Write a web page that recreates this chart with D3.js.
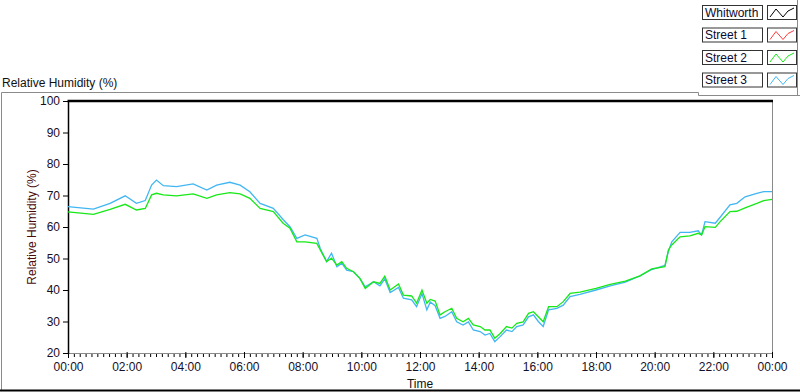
<!DOCTYPE html>
<html>
<head>
<meta charset="utf-8">
<script src="https://d3js.org/d3.v7.min.js"></script>
<style>
body { margin: 0; background: #fff; }
svg { display: block; font-family: "Liberation Sans", Arial, sans-serif; }
</style>
<title>Relative Humidity</title>
</head>
<body>
<script>
// minutes since midnight
var minutes = [0, 52, 86, 117, 140, 158, 171, 181, 195, 222, 256, 284, 304, 331, 352, 372, 393, 420,
  440, 454, 468, 485, 509, 516, 529, 539, 550, 560, 570, 584, 597, 608, 625, 638, 648, 659, 676, 686,
  703, 713, 724, 734, 741, 751, 761, 771, 785, 795, 808, 819, 829, 843, 853, 863, 873, 884, 897, 908,
  918, 931, 942, 952, 962, 972, 983, 1000, 1013, 1027, 1047, 1080, 1109, 1140, 1170, 1194, 1221, 1228,
  1235, 1252, 1272, 1289, 1296, 1303, 1324, 1334, 1354, 1368, 1385, 1409, 1423, 1440];

var street2 = [64.8, 64.0, 65.6, 67.2, 65.4, 65.9, 70.2, 70.7, 70.2, 69.9, 70.5, 69.1, 70.2, 70.9, 70.5, 69.1, 65.9, 64.9,
  61.2, 59.6, 55.3, 55.3, 54.8, 52.7, 49.0, 50.1, 47.9, 49.0, 46.9, 45.8, 43.7, 40.5, 42.6, 42.1, 44.4, 40.0, 41.9, 38.4,
  38.1, 35.8, 40.0, 35.8, 37.0, 36.5, 32.1, 33.1, 34.2, 31.0, 29.9, 31.0, 28.9, 28.4, 27.3, 27.3, 24.7, 26.2, 28.4, 27.9,
  29.4, 29.9, 32.6, 33.1, 31.5, 29.9, 34.7, 34.7, 36.3, 38.9, 39.3, 40.5, 41.8, 42.8, 44.5, 46.7, 47.4, 52.7,
  54.3, 56.9, 57.2, 58.0, 57.5, 60.1, 59.9, 61.7, 64.9, 65.0, 66.1, 67.5, 68.4, 68.8];

var street3 = [66.5, 65.7, 67.5, 69.9, 67.5, 68.4, 73.3, 74.9, 73.1, 72.8, 73.7, 71.7, 73.3, 74.2, 73.3, 71.2, 67.5, 65.9,
  62.4, 60.1, 56.4, 57.5, 56.4, 53.2, 49.0, 51.7, 47.4, 48.5, 46.3, 45.8, 43.7, 41.0, 42.6, 41.3, 43.5, 39.2, 40.8, 37.4,
  36.9, 34.7, 38.9, 33.7, 36.2, 35.0, 31.0, 31.6, 33.1, 29.9, 28.9, 29.9, 27.3, 26.8, 25.7, 26.2, 23.6, 25.2, 27.3, 26.8,
  28.4, 28.9, 31.5, 32.1, 30.0, 28.4, 33.7, 34.2, 35.2, 37.9, 38.6, 40.0, 41.3, 42.5, 44.5, 46.5, 47.8, 52.2,
  55.3, 58.3, 58.3, 58.8, 57.5, 61.7, 61.2, 63.1, 67.0, 67.5, 69.6, 70.7, 71.2, 71.2];

var seriesNames = ["Whitworth", "Street 1", "Street 2", "Street 3"];
var seriesColors = ["#000000", "#ff3b3b", "#17e817", "#41b6f2"];
var yTicks = [20, 30, 40, 50, 60, 70, 80, 90, 100];
var xTickLabels = ["00:00", "02:00", "04:00", "06:00", "08:00", "10:00", "12:00",
  "14:00", "16:00", "18:00", "20:00", "22:00", "00:00"];

var width = 800, height = 392;
var plotLeft = 68, plotRight = 772, plotTop = 101, plotBottom = 353;

var svg = d3.select("body").append("svg")
    .attr("width", width)
    .attr("height", height);

var x = d3.scaleLinear().domain([0, 1440]).range([plotLeft, plotRight]);
var y = d3.scaleLinear().domain([20, 100]).range([plotBottom, plotTop]);

// outer panel frame
svg.append("path")
    .attr("d", "M1.5,390V92.5H698.5V95.5H800")
    .attr("fill", "none").attr("stroke", "#8a8a8a").attr("stroke-width", 1);
svg.append("line")
    .attr("x1", 0).attr("x2", 800).attr("y1", 390.5).attr("y2", 390.5)
    .attr("stroke", "#000").attr("stroke-width", 2);
svg.append("line")
    .attr("x1", 797.5).attr("x2", 797.5).attr("y1", 0).attr("y2", 95)
    .attr("stroke", "#8a8a8a");

svg.append("text")
    .attr("x", 2).attr("y", 87)
    .attr("font-size", 12).attr("fill", "#111")
    .text("Relative Humidity (%)");

// plot frame
svg.append("line").attr("x1", plotRight + 0.5).attr("x2", plotRight + 0.5).attr("y1", plotTop).attr("y2", plotBottom)
    .attr("stroke", "#8a8a8a");
svg.append("line").attr("x1", plotLeft).attr("x2", plotRight + 1).attr("y1", plotBottom + 0.5).attr("y2", plotBottom + 0.5)
    .attr("stroke", "#8a8a8a");
svg.append("line").attr("x1", plotLeft - 0.5).attr("x2", plotRight + 1).attr("y1", plotTop).attr("y2", plotTop)
    .attr("stroke", "#000").attr("stroke-width", 2.5);
svg.append("line").attr("x1", plotLeft + 0.5).attr("x2", plotLeft + 0.5).attr("y1", plotTop).attr("y2", plotBottom + 1)
    .attr("stroke", "#000").attr("stroke-width", 1.5);

// y axis
var yAxis = d3.axisLeft(y).tickValues(yTicks).tickSize(5).tickPadding(3);
var gy = svg.append("g").attr("transform", "translate(" + plotLeft + ",0)").call(yAxis);
gy.select(".domain").remove();
gy.selectAll("text").attr("font-size", 12).attr("font-family", "Liberation Sans, Arial, sans-serif").attr("fill", "#1a0d1f");

// x axis: major every 2h, minor every 12 min
var xMinor = d3.axisBottom(x).tickValues(d3.range(0, 1441, 12)).tickSize(3).tickFormat("");
var gxm = svg.append("g").attr("transform", "translate(0," + (plotBottom + 1) + ")").call(xMinor);
gxm.select(".domain").remove();
var xAxis = d3.axisBottom(x).tickValues(d3.range(0, 1441, 120)).tickSize(6).tickPadding(4)
    .tickFormat(function(d, i) { return xTickLabels[i]; });
var gx = svg.append("g").attr("transform", "translate(0," + (plotBottom - 1) + ")").call(xAxis);
gx.select(".domain").remove();
gx.selectAll("text").attr("font-size", 12).attr("font-family", "Liberation Sans, Arial, sans-serif").attr("fill", "#15102a");

svg.append("text")
    .attr("x", 420).attr("y", 388).attr("text-anchor", "middle")
    .attr("font-size", 12).attr("fill", "#111")
    .text("Time");

svg.append("text")
    .attr("transform", "translate(36,227) rotate(-90)")
    .attr("text-anchor", "middle")
    .attr("font-size", 12).attr("fill", "#4a0a0a")
    .text("Relative Humidity (%)");

// series
var line = d3.line()
    .x(function(d) { return x(d[0]); })
    .y(function(d) { return y(d[1]); });

var plotted = [
  { values: street3, color: seriesColors[3] },
  { values: street2, color: seriesColors[2] }
];
plotted.forEach(function(s) {
  svg.append("path")
      .datum(minutes.map(function(m, i) { return [m, s.values[i]]; }))
      .attr("fill", "none")
      .attr("stroke", s.color)
      .attr("stroke-width", 1.3)
      .attr("d", line);
});

// legend
var legend = svg.selectAll("g.legend")
    .data(seriesNames)
  .enter().append("g")
    .attr("class", "legend")
    .attr("transform", function(d, i) { return "translate(702," + (5 + i * 22.5) + ")"; });

legend.append("rect")
    .attr("x", 0.5).attr("y", 0.5).attr("width", 60).attr("height", 14)
    .attr("fill", "#fff").attr("stroke", "#333");
legend.append("text")
    .attr("x", 3).attr("y", 11.5)
    .attr("font-size", 12).attr("fill", "#0a0a30")
    .text(function(d) { return d; });
legend.append("rect")
    .attr("x", 65.5).attr("y", 0.5).attr("width", 29).attr("height", 14)
    .attr("fill", "#fff").attr("stroke", "#333");
legend.append("polyline")
    .attr("points", "68,12 74,4 81,12 86,6 92,3")
    .attr("fill", "none")
    .attr("stroke", function(d, i) { return seriesColors[i]; })
    .attr("stroke-width", 1);
</script>
</body>
</html>
